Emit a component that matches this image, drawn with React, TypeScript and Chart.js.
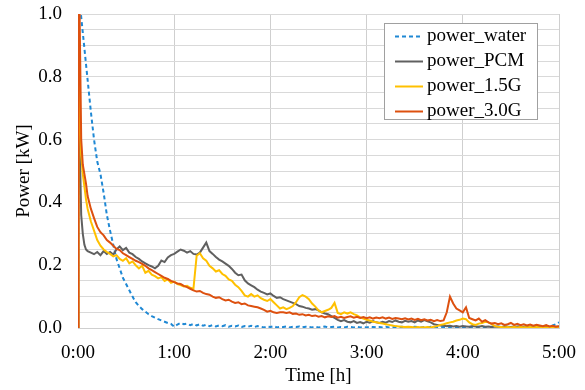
import React, { useEffect, useRef } from 'react';
import { Chart, registerables } from 'chart.js';

Chart.register(...registerables);

// Time axis in minutes
const minutes = [
  0, 0.3, 1, 2, 3, 4, 5, 6,
  8, 10, 12, 14, 16, 18, 20, 22, 24, 26,
  28, 30, 32, 34, 36, 38, 40, 42, 44, 46,
  48, 50, 52, 54, 56, 58, 60, 62, 64, 66,
  68, 70, 72, 74, 76, 78, 80, 82, 84, 86,
  88, 90, 92, 94, 96, 98, 100, 102, 104, 106,
  108, 110, 112, 114, 116, 118, 120, 122, 124, 126,
  128, 130, 132, 134, 136, 138, 140, 142, 144, 146,
  148, 150, 152, 154, 156, 158, 160, 162, 164, 166,
  168, 170, 172, 174, 176, 178, 180, 182, 184, 186,
  188, 190, 192, 194, 196, 198, 200, 202, 204, 206,
  208, 210, 212, 214, 216, 218, 220, 222, 224, 226,
  228, 230, 232, 234, 236, 238, 240, 242, 244, 246,
  248, 250, 252, 254, 256, 258, 260, 262, 264, 266,
  268, 270, 272, 274, 276, 278, 280, 282, 284, 286,
  288, 290, 292, 294, 296, 298, 300,
];

const powerWater = [
  0, 1.1, 1.05, 0.99, 0.94, 0.89, 0.84, 0.79,
  0.69, 0.6, 0.53, 0.49, 0.43, 0.36, 0.31, 0.265, 0.22, 0.19,
  0.16, 0.14, 0.12, 0.1, 0.082, 0.07, 0.06, 0.052, 0.044, 0.038,
  0.033, 0.028, 0.024, 0.02, 0.016, 0.013, 0.004, 0.011, 0.016, 0.012,
  0.014, 0.009, 0.013, 0.008, 0.012, 0.007, 0.01, 0.006, 0.009, 0.005,
  0.008, 0.006, 0.009, 0.004, 0.007, 0.005, 0.008, 0.003, 0.006, 0.004,
  0.007, 0.003, 0.006, 0.004, 0.002, 0.005, 0.003, 0.006, 0.002, 0.004,
  0.003, 0.005, 0.002, 0.004, 0.003, 0.005, 0.002, 0.004, 0.003, 0.002,
  0.004, 0.002, 0.003, 0.005, 0.002, 0.003, 0.004, 0.002, 0.003, 0.002,
  0.004, 0.003, 0.002, 0.004, 0.002, 0.003, 0.002, 0.004, 0.003, 0.002,
  0.003, 0.002, 0.004, 0.002, 0.003, 0.002, 0.003, 0.004, 0.002, 0.003,
  0.002, 0.004, 0.003, 0.002, 0.003, 0.002, 0.004, 0.002, 0.003, 0.002,
  0.003, 0.002, 0.003, 0.004, 0.002, 0.003, 0.002, 0.004, 0.003, 0.002,
  0.003, 0.004, 0.002, 0.003, 0.002, 0.004, 0.003, 0.005, 0.003, 0.004,
  0.005, 0.003, 0.004, 0.006, 0.004, 0.005, 0.003, 0.006, 0.004, 0.005,
  0.006, 0.004, 0.007, 0.005, 0.008, 0.012, 0.018,
];

const powerPCM = [
  0, 1.0, 0.6, 0.36, 0.3, 0.265, 0.25, 0.245,
  0.24, 0.235, 0.242, 0.232, 0.245, 0.236, 0.242, 0.234, 0.25, 0.26,
  0.248, 0.255, 0.24, 0.235, 0.226, 0.22, 0.212, 0.206, 0.2, 0.196,
  0.19, 0.198, 0.215, 0.21, 0.225, 0.232, 0.236, 0.243, 0.25, 0.246,
  0.24, 0.245, 0.236, 0.234, 0.24, 0.256, 0.272, 0.245, 0.236, 0.226,
  0.218, 0.212, 0.205, 0.198, 0.188, 0.176, 0.168, 0.17, 0.152, 0.142,
  0.136, 0.13, 0.122, 0.116, 0.112, 0.107, 0.11, 0.102, 0.096, 0.098,
  0.092, 0.088, 0.084, 0.08, 0.076, 0.07, 0.068, 0.064, 0.062, 0.058,
  0.06, 0.056, 0.05, 0.046, 0.044, 0.038, 0.032, 0.026, 0.022, 0.025,
  0.02, 0.018, 0.022, 0.016, 0.019, 0.015, 0.02, 0.017, 0.022, 0.018,
  0.016, 0.02, 0.017, 0.022, 0.019, 0.024, 0.02, 0.018, 0.023, 0.02,
  0.022, 0.018, 0.024, 0.02, 0.025, 0.021, 0.018, 0.012, 0.01, 0.008,
  0.008, 0.006, 0.007, 0.005, 0.006, 0.004, 0.006, 0.005, 0.004, 0.006,
  0.005, 0.004, 0.006, 0.004, 0.005, 0.003, 0.005, 0.004, 0.003, 0.005,
  0.004, 0.003, 0.005, 0.004, 0.003, 0.004, 0.003, 0.005, 0.004, 0.003,
  0.004, 0.003, 0.005, 0.004, 0.003, 0.004, 0.005,
];

const power15G = [
  0, 1.0, 0.7, 0.55, 0.49, 0.45, 0.41, 0.38,
  0.34, 0.31, 0.28, 0.262, 0.25, 0.242, 0.236, 0.228, 0.232, 0.22,
  0.214, 0.222, 0.206, 0.212, 0.2, 0.19, 0.198, 0.176, 0.182, 0.17,
  0.165, 0.158, 0.162, 0.15, 0.155, 0.144, 0.148, 0.14, 0.137, 0.132,
  0.134, 0.128, 0.125, 0.23, 0.238, 0.222, 0.214, 0.198, 0.19, 0.18,
  0.184, 0.172, 0.166, 0.155, 0.15, 0.138, 0.13, 0.118, 0.104, 0.1,
  0.108, 0.1, 0.104, 0.095, 0.09, 0.086, 0.092, 0.082, 0.072, 0.062,
  0.066, 0.06, 0.064, 0.07, 0.082, 0.098, 0.105, 0.1, 0.092, 0.078,
  0.068, 0.056, 0.05, 0.054, 0.058, 0.064, 0.08, 0.048, 0.044, 0.05,
  0.046, 0.05, 0.044, 0.04, 0.034, 0.03, 0.026, 0.024, 0.02, 0.018,
  0.016, 0.014, 0.012, 0.01, 0.008, 0.006, 0.005, 0.004, 0.003, 0.004,
  0.003, 0.002, 0.003, 0.002, 0.002, 0.003, 0.002, 0.004, 0.006, 0.01,
  0.012, 0.015, 0.018, 0.02, 0.024, 0.026, 0.03, 0.028, 0.018, 0.012,
  0.01, 0.014, 0.016, 0.02, 0.018, 0.012, 0.006, 0.004, 0.003, 0.002,
  0.003, 0.002, 0.003, 0.002, 0.003, 0.002, 0.002, 0.003, 0.002, 0.003,
  0.002, 0.003, 0.002, 0.003, 0.002, 0.003, 0.002,
];

const power30G = [
  0, 1.0, 1.0, 0.6, 0.52, 0.49, 0.46, 0.42,
  0.38, 0.35, 0.322, 0.305, 0.295, 0.28, 0.272, 0.262, 0.252, 0.248,
  0.238, 0.232, 0.226, 0.22, 0.214, 0.21, 0.204, 0.198, 0.19, 0.184,
  0.178, 0.172, 0.166, 0.16, 0.156, 0.15, 0.146, 0.142, 0.14, 0.134,
  0.13, 0.125, 0.12, 0.116, 0.118, 0.112, 0.108, 0.106, 0.1, 0.096,
  0.098, 0.092, 0.088, 0.09, 0.084, 0.08, 0.082, 0.076, 0.078, 0.072,
  0.07, 0.068, 0.066, 0.062, 0.058, 0.052, 0.055, 0.05, 0.048, 0.05,
  0.05, 0.048, 0.05, 0.045, 0.046, 0.042, 0.044, 0.04, 0.042, 0.038,
  0.04, 0.036, 0.038, 0.034, 0.037, 0.035, 0.038, 0.033, 0.036, 0.032,
  0.035, 0.037, 0.033, 0.036, 0.032, 0.035, 0.031, 0.034, 0.03, 0.033,
  0.031, 0.034, 0.03, 0.033, 0.029, 0.032, 0.03, 0.028, 0.031, 0.027,
  0.03, 0.026, 0.029, 0.025, 0.028, 0.024, 0.026, 0.022, 0.025, 0.022,
  0.024, 0.05, 0.1, 0.078, 0.062, 0.056, 0.05, 0.066, 0.032, 0.028,
  0.024, 0.03, 0.02, 0.025, 0.018, 0.014, 0.016, 0.012, 0.015, 0.01,
  0.012, 0.016, 0.01, 0.013, 0.009, 0.012, 0.008, 0.011, 0.007, 0.01,
  0.008, 0.006, 0.009, 0.005, 0.007, 0.004, 0.006,
];

const seriesNames = ['power_water', 'power_PCM', 'power_1.5G', 'power_3.0G'];
const seriesColors = ['#1F88D4', '#606060', '#FFC000', '#DD500F'];
const timeTickLabels = ['0:00', '1:00', '2:00', '3:00', '4:00', '5:00'];
const powerTickLabels = ['0.0', '0.2', '0.4', '0.6', '0.8', '1.0'];
const xTitle = 'Time [h]';
const yTitle = 'Power [kW]';

const FONT = "'Liberation Serif', 'Times New Roman', serif";

const toPoints = (vals: number[]) => vals.map((v, i) => ({ x: minutes[i], y: v }));

const boxLegend = {
  id: 'boxLegend',
  afterDraw(chart: any) {
    const { ctx, chartArea } = chart;
    const w = 153;
    const h = 96;
    const x0 = chartArea.right - 175;
    const y0 = chartArea.top + 9;
    ctx.save();
    ctx.fillStyle = '#ffffff';
    ctx.fillRect(x0, y0, w, h);
    ctx.strokeStyle = '#a0a0a0';
    ctx.lineWidth = 1;
    ctx.strokeRect(x0 + 0.5, y0 + 0.5, w, h);
    chart.data.datasets.forEach((ds: any, i: number) => {
      const cy = y0 + 13.5 + i * 25;
      ctx.strokeStyle = ds.borderColor;
      ctx.lineWidth = 2;
      ctx.setLineDash(ds.borderDash || []);
      ctx.beginPath();
      ctx.moveTo(x0 + 11, cy);
      ctx.lineTo(x0 + 39, cy);
      ctx.stroke();
      ctx.setLineDash([]);
      ctx.fillStyle = '#000000';
      ctx.font = `19px ${FONT}`;
      ctx.textBaseline = 'middle';
      ctx.textAlign = 'left';
      ctx.fillText(ds.label, x0 + 43, cy);
    });
    ctx.restore();
  },
};

export default function App() {
  const ref = useRef<HTMLCanvasElement>(null);

  useEffect(() => {
    document.body.style.margin = '0';
    const canvas = ref.current;
    if (!canvas) return;
    const values = [powerWater, powerPCM, power15G, power30G];
    const chart = new Chart(canvas, {
      type: 'line',
      data: {
        datasets: values.map((vals, i) => ({
          label: seriesNames[i],
          data: toPoints(vals),
          borderColor: seriesColors[i],
          backgroundColor: seriesColors[i],
          borderWidth: 2,
          borderDash: i === 0 ? [4, 3] : [],
          pointRadius: 0,
          tension: 0,
          fill: false,
          order: 4 - i,
        })),
      },
      options: {
        responsive: false,
        animation: false,
        devicePixelRatio: 1,
        layout: { padding: { top: 14, right: 26, left: 0, bottom: 0 } },
        plugins: {
          legend: { display: false },
          tooltip: { enabled: false },
        },
        scales: {
          x: {
            type: 'linear',
            min: 0,
            max: 300,
            afterFit: (s: any) => {
              s.height = 62;
              s.paddingLeft = 0;
              s.paddingRight = 0;
            },
            ticks: {
              stepSize: 60,
              autoSkip: false,
              maxRotation: 0,
              padding: 14,
              color: '#000000',
              font: { family: FONT, size: 19 },
              callback: (v: any) => timeTickLabels[Math.round(Number(v) / 60)] ?? '',
            },
            grid: { color: '#cfcfcf', lineWidth: 1, drawTicks: false },
            border: { color: '#cfcfcf' },
            title: {
              display: true,
              text: xTitle,
              color: '#000000',
              font: { family: FONT, size: 19 },
              padding: { top: 0, bottom: 3 },
            },
          },
          y: {
            min: 0,
            max: 1,
            afterFit: (s: any) => {
              s.width = 78;
              s.paddingTop = 0;
              s.paddingBottom = 0;
            },
            ticks: {
              stepSize: 0.05,
              autoSkip: false,
              padding: 16,
              color: '#000000',
              font: { family: FONT, size: 19 },
              callback: (v: any) => {
                const r = Math.round(Number(v) * 100);
                return r % 20 === 0 ? powerTickLabels[r / 20] : '';
              },
            },
            grid: { color: '#d9d9d9', lineWidth: 1, drawTicks: false },
            border: { color: '#cfcfcf' },
            title: {
              display: true,
              text: yTitle,
              color: '#000000',
              font: { family: FONT, size: 19 },
              padding: { top: 13, bottom: 0 },
            },
          },
        },
      },
      plugins: [boxLegend],
    });
    return () => chart.destroy();
  }, []);

  return (
    <div style={{ width: 585, height: 390, background: '#ffffff' }}>
      <canvas ref={ref} width={585} height={390} style={{ width: 585, height: 390, display: 'block' }} />
    </div>
  );
}
